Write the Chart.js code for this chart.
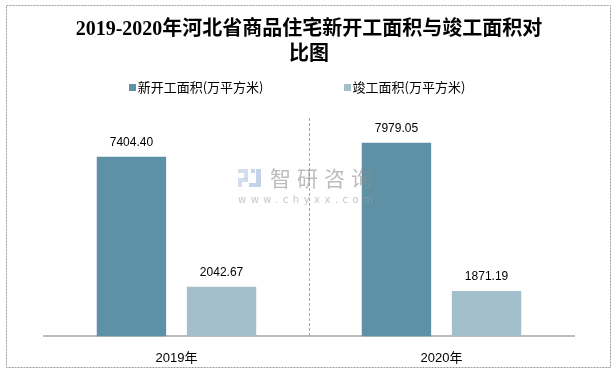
<!DOCTYPE html>
<html>
<head>
<meta charset="utf-8">
<script src="https://cdn.jsdelivr.net/npm/chart.js@4/dist/chart.umd.min.js"></script>
<style>
  html, body { margin: 0; padding: 0; background: #fff; }
  #wrap { position: relative; width: 616px; height: 372px; }
</style>
</head>
<body>
<div id="wrap"><canvas id="chart" width="616" height="372"></canvas></div>
<script>
// 数据
const categories = ['2019年', '2020年'];
const newStart = [7404.40, 7979.05];
const completed = [2042.67, 1871.19];
const seriesNames = ['新开工面积(万平方米)', '竣工面积(万平方米)'];
const barColors = ['#5e91a5', '#a2bfcb'];

// 外框 + 水印 + 虚线分隔
const framePlugin = {
    id: 'frame',
    beforeDraw(chart) {
        const ctx = chart.ctx;
        ctx.save();
        ctx.fillStyle = '#fff';
        ctx.fillRect(0, 0, chart.width, chart.height);
        ctx.strokeStyle = '#9a9a9a';
        ctx.lineWidth = 1;
        ctx.setLineDash([2, 1]);
        ctx.strokeRect(6.5, 5.5, 604, 362);
        ctx.restore();
    },
    afterDraw(chart) {
        const ctx = chart.ctx;
        const x = chart.scales.x;
        const area = chart.chartArea;
        ctx.save();
        // 分隔虚线
        const mid = Math.round((x.getPixelForTick(0) + x.getPixelForTick(1)) / 2) + 0.5;
        ctx.strokeStyle = '#a6a6a6';
        ctx.lineWidth = 1;
        ctx.setLineDash([3, 2]);
        ctx.beginPath();
        ctx.moveTo(mid, area.top);
        ctx.lineTo(mid, area.bottom);
        ctx.stroke();
        ctx.setLineDash([]);
        // 水印
        ctx.globalAlpha = 0.6;
        ctx.fillStyle = '#b4c6e2';
        ctx.fillRect(238, 169, 10, 4);
        ctx.fillRect(244, 173, 4, 6);
        ctx.fillRect(238, 178, 10, 4);
        ctx.fillRect(238, 182, 4, 5);
        ctx.fillStyle = '#9bb6dc';
        ctx.fillRect(251, 169, 4, 4);
        ctx.fillRect(256, 169, 5, 14);
        ctx.fillRect(249, 183, 12, 4);
        ctx.fillStyle = '#8f8f8f';
        ctx.font = '21px "Noto Sans CJK SC"';
        ctx.textBaseline = 'middle';
        ctx.textAlign = 'left';
        ctx.letterSpacing = '6px';
        ctx.fillText('智研咨询', 270, 178);
        ctx.font = '10px "DejaVu Sans"';
        ctx.letterSpacing = '4.5px';
        ctx.fillStyle = '#a0a0a0';
        ctx.fillText('www.chyxx.com', 238, 200);
        ctx.restore();

        // 图例
        ctx.save();
        ctx.font = '13px "Noto Sans CJK SC"';
        ctx.textBaseline = 'middle';
        ctx.textAlign = 'left';
        const box = 7, gap = 2, spacing = 80;
        const widths = seriesNames.map(s => ctx.measureText(s).width);
        const total = widths.reduce((a, b) => a + b, 0) + 2 * (box + gap) + spacing;
        let lx = 297 - total / 2;
        const ly = 87.5;
        seriesNames.forEach((name, i) => {
            ctx.fillStyle = barColors[i];
            ctx.fillRect(Math.round(lx), Math.round(ly - box / 2), box, box);
            ctx.fillStyle = '#000';
            ctx.fillText(name, lx + box + gap, ly);
            lx += box + gap + widths[i] + spacing;
        });
        ctx.restore();
    }
};

// 数值标签
const valueLabels = {
    id: 'valueLabels',
    afterDatasetsDraw(chart) {
        const ctx = chart.ctx;
        ctx.save();
        ctx.font = '12px "Liberation Sans", Arial';
        ctx.fillStyle = '#000';
        ctx.textAlign = 'center';
        ctx.textBaseline = 'middle';
        chart.data.datasets.forEach((ds, i) => {
            chart.getDatasetMeta(i).data.forEach((bar, j) => {
                ctx.fillText(ds.data[j].toFixed(2), bar.x, bar.y - 14);
            });
        });
        ctx.restore();
    }
};

const ctx = document.getElementById('chart').getContext('2d');
const chart = new Chart(ctx, {
    type: 'bar',
    data: {
        labels: categories,
        datasets: [{
            label: seriesNames[0],
            data: newStart,
            backgroundColor: barColors[0]
        }, {
            label: seriesNames[1],
            data: completed,
            backgroundColor: barColors[1]
        }]
    },
    options: {
        responsive: false,
        animation: false,
        categoryPercentage: 0.68,
        barPercentage: 0.77,
        layout: {
            padding: { left: 44, right: 42, top: 8, bottom: 0 }
        },
        plugins: {
            title: {
                display: true,
                text: ['2019-2020年河北省商品住宅新开工面积与竣工面积对', '比图'],
                font: { size: 20, weight: 'bold', family: '"Liberation Serif", "Noto Sans CJK SC"', lineHeight: 1.25 },
                color: '#000',
                padding: { top: 9, bottom: 51 }
            },
            legend: { display: false },
            tooltip: { enabled: false }
        },
        scales: {
            x: {
                grid: { display: false },
                border: { color: '#bcbcbc', width: 2 },
                ticks: {
                    color: '#000',
                    padding: 6,
                    font: { size: 13, family: '"Liberation Sans", "Noto Sans CJK SC"' }
                }
            },
            y: {
                display: false,
                min: 0,
                max: 9000
            }
        }
    },
    plugins: [framePlugin, valueLabels]
});
</script>
</body>
</html>
